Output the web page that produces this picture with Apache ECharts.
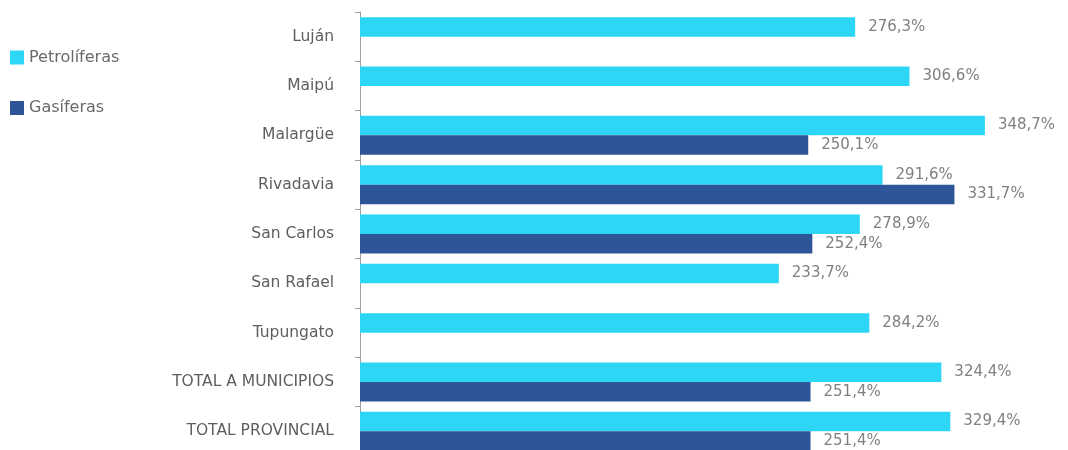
<!DOCTYPE html>
<html><head><meta charset="utf-8">
<script src="https://cdn.jsdelivr.net/npm/echarts@6/dist/echarts.min.js"></script>
<style>html,body{margin:0;padding:0;background:#fff}#c{width:1068px;height:450px}</style>
</head><body><div id="c"></div>
<script>
const categories = ['Luján','Maipú','Malargüe','Rivadavia','San Carlos','San Rafael','Tupungato','TOTAL A MUNICIPIOS','TOTAL PROVINCIAL'];
const petroliferas = [276.3, 306.6, 348.7, 291.6, 278.9, 233.7, 284.2, 324.4, 329.4];
const gasiferas = [null, null, 250.1, 331.7, 252.4, null, null, 251.4, 251.4];
const seriesNames = ['Petrolíferas','Gasíferas'];

const FONT = 'DejaVu Sans';
const fmt = p => p.value.toFixed(1).replace('.', ',') + '%';
const chart = echarts.init(document.getElementById('c'), null, {renderer:'canvas'});
const lbl = {show:true, position:'right', distance:13, formatter:fmt, fontFamily:FONT, fontSize:15, color:'#808080'};
chart.setOption({
  animation:false,
  textStyle:{fontFamily:FONT},
  legend:{
    orient:'vertical', left:10, top:49.5, padding:0, itemWidth:14, itemHeight:14, itemGap:34.5,
    icon:'rect',
    textStyle:{fontFamily:FONT, fontSize:16, color:'#6a6a6a'},
    data:seriesNames
  },
  grid:{left:360, top:12, width:681, height:444, containLabel:false, outerBoundsMode:'none'},
  xAxis:{type:'value', min:0, max:380, show:false},
  yAxis:{
    type:'category', data:categories, inverse:true,
    axisLine:{show:true, lineStyle:{color:'#a0a0a0', width:1}},
    axisTick:{show:true, length:5, lineStyle:{color:'#a0a0a0'}},
    axisLabel:{fontFamily:FONT, fontSize:15.5, color:'#5e5e5e', margin:26}
  },
  series:[
    {name:seriesNames[0], type:'bar', data:petroliferas, barWidth:19.5, barGap:'0%',
     itemStyle:{color:'#2dd6f4'}, label:lbl},
    {name:seriesNames[1], type:'bar', data:gasiferas, barWidth:19.5, barGap:'0%',
     itemStyle:{color:'#2e5597'}, label:lbl}
  ]
});
</script></body></html>
